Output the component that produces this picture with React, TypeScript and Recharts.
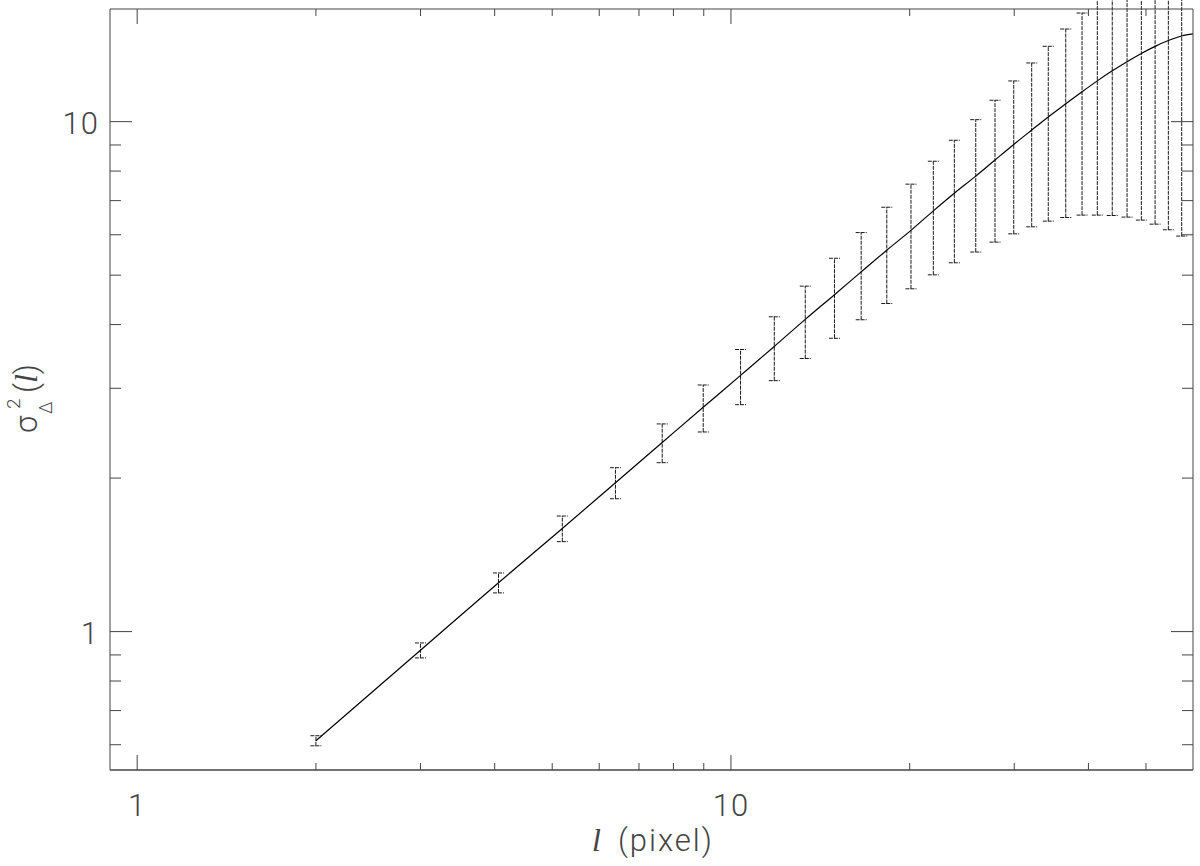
import React from 'react';
import { ComposedChart, XAxis, YAxis, Line, Scatter, ErrorBar } from 'recharts';

// lag l (pixel) of each measured point
const lagValues = [
  2, 3, 4.06, 5.2, 6.39, 7.66, 8.98, 10.38, 11.83, 13.34,
  14.94, 16.57, 18.3, 20.1, 21.92, 23.78, 25.84, 27.84, 29.94, 32.1,
  34.23, 36.63, 39.02, 41.4, 43.87, 46.46, 49.11, 51.8, 54.53, 57.43,
];
// sigma_Delta^2(l) at each lag
const sigmaValues = [
  0.611, 0.919, 1.247, 1.593, 1.959, 2.349, 2.754, 3.18, 3.624, 4.095,
  4.578, 5.074, 5.597, 6.121, 6.685, 7.24, 7.82, 8.409, 9.021, 9.627,
  10.216, 10.839, 11.443, 12.021, 12.579, 13.111, 13.608, 14.049, 14.421, 14.723,
];
// symmetric error at each lag
const sigmaErrors = [
  0.0139, 0.031, 0.056, 0.092, 0.137, 0.205, 0.291, 0.394, 0.519, 0.663,
  0.818, 0.986, 1.198, 1.42, 1.678, 1.953, 2.27, 2.605, 2.996, 3.407,
  3.835, 4.353, 4.886, 5.464, 6.034, 6.613, 7.197, 7.754, 8.284, 8.758,
];
// model curve: through the points, ending at the right edge
const curveEndLag = 60;
const curveEndValue = 14.86;

const xTicks = [1, 2, 3, 4, 5, 6, 7, 8, 9, 10, 20, 30, 40, 50];
const xMajorTicks = [1, 10];
const yTicks = [0.6, 0.7, 0.8, 0.9, 1, 2, 3, 4, 5, 6, 7, 8, 9, 10];
const yMajorTicks = [1, 10];

const xDomain: [number, number] = [0.9, 60];
const yDomain: [number, number] = [0.5353, 16.63];

const points = lagValues.map((lag, i) => ({ lag, sigma: sigmaValues[i], err: sigmaErrors[i] }));
const curve = [
  ...lagValues.map((lag, i) => ({ lag, sigma: sigmaValues[i] })),
  { lag: curveEndLag, sigma: curveEndValue },
];

const AXIS = '#444';
const TEXT = '#444';
const FONT = 'Roboto, "DejaVu Sans", sans-serif';
const SERIF = '"Liberation Serif", "DejaVu Serif", serif';

const BottomTick = (props: any) => {
  const { x, y, payload } = props;
  const major = xMajorTicks.includes(payload.value);
  return (
    <g>
      <line x1={x} x2={x} y1={y} y2={y - (major ? 15 : 7)} stroke={AXIS} strokeWidth={1} />
      {major && (
        <text x={x} y={y + 46} textAnchor="middle" fontFamily={FONT} fontWeight={300} fontSize={31} fill={TEXT} letterSpacing={1}>
          {payload.value}
        </text>
      )}
    </g>
  );
};

const TopTick = (props: any) => {
  const { x, y, payload } = props;
  const major = xMajorTicks.includes(payload.value);
  return <line x1={x} x2={x} y1={y} y2={y + (major ? 15 : 7)} stroke={AXIS} strokeWidth={1} />;
};

const LeftTick = (props: any) => {
  const { x, y, payload } = props;
  const major = yMajorTicks.includes(payload.value);
  return (
    <g>
      <line x1={x} x2={x + (major ? 22 : 11)} y1={y} y2={y} stroke={AXIS} strokeWidth={1} />
      {major && (
        <text x={x - 11} y={y + 12.5} textAnchor="end" fontFamily={FONT} fontWeight={300} fontSize={31} fill={TEXT} letterSpacing={1}>
          {payload.value}
        </text>
      )}
    </g>
  );
};

const RightTick = (props: any) => {
  const { x, y, payload } = props;
  const major = yMajorTicks.includes(payload.value);
  return <line x1={x} x2={x - (major ? 22 : 11)} y1={y} y2={y} stroke={AXIS} strokeWidth={1} />;
};

const NoShape = () => <g />;

export default function App() {
  return (
    <div style={{ position: 'absolute', left: 0, top: 0, width: 1200, height: 866, background: '#fff' }}>
      <ComposedChart width={1200} height={866} margin={{ top: 0, right: 0, bottom: 0, left: 0 }}>
        <XAxis
          xAxisId={0}
          dataKey="lag"
          type="number"
          scale="log"
          domain={xDomain}
          allowDataOverflow
          ticks={xTicks}
          interval={0}
          tickSize={0}
          tickMargin={0}
          tick={<BottomTick />}
          height={96}
          axisLine={{ stroke: AXIS, strokeWidth: 1.3 }}
          tickLine={false}
        />
        <XAxis
          xAxisId="top"
          dataKey="lag"
          orientation="top"
          type="number"
          scale="log"
          domain={xDomain}
          allowDataOverflow
          ticks={xTicks}
          interval={0}
          tickSize={0}
          tickMargin={0}
          tick={<TopTick />}
          height={9}
          axisLine={{ stroke: AXIS, strokeWidth: 1 }}
          tickLine={false}
        />
        <YAxis
          yAxisId={0}
          dataKey="sigma"
          type="number"
          scale="log"
          domain={yDomain}
          allowDataOverflow
          ticks={yTicks}
          interval={0}
          tickSize={0}
          tickMargin={0}
          tick={<LeftTick />}
          width={110}
          axisLine={{ stroke: AXIS, strokeWidth: 1 }}
          tickLine={false}
        />
        <YAxis
          yAxisId="right"
          dataKey="sigma"
          orientation="right"
          type="number"
          scale="log"
          domain={yDomain}
          allowDataOverflow
          ticks={yTicks}
          interval={0}
          tickSize={0}
          tickMargin={0}
          tick={<RightTick />}
          width={7}
          axisLine={{ stroke: AXIS, strokeWidth: 1 }}
          tickLine={false}
        />
        <Scatter
          data={points}
          dataKey="sigma"
          xAxisId="top"
          yAxisId="right"
          shape={<NoShape />}
          isAnimationActive={false}
          legendType="none"
        />
        <Scatter
          data={points}
          dataKey="sigma"
          xAxisId={0}
          yAxisId={0}
          shape={<NoShape />}
          isAnimationActive={false}
        >
          <ErrorBar dataKey="err" direction="y" width={5.5} stroke="#1a1a1a" strokeWidth={1} strokeDasharray="4 1" isAnimationActive={false} />
        </Scatter>
        <Line
          data={curve}
          dataKey="sigma"
          xAxisId={0}
          yAxisId={0}
          type="monotone"
          dot={false}
          activeDot={false}
          stroke="#000"
          strokeWidth={1.2}
          isAnimationActive={false}
        />
      </ComposedChart>
      <svg
        width={1200}
        height={866}
        style={{ position: 'absolute', left: 0, top: 0, pointerEvents: 'none' }}
      >
        <text x={592} y={851} fontFamily={FONT} fontWeight={300} fontSize={31} fill={TEXT}>
          <tspan fontFamily={SERIF} fontStyle="italic" fontWeight={400} fontSize={32}>l</tspan>
          <tspan dx={17} letterSpacing={2}>(pixel)</tspan>
        </text>
        <g transform="rotate(-90)">
          <text fontFamily={FONT} fontWeight={300} fill={TEXT}>
            <tspan x={-433} y={37} fontSize={31}>σ</tspan>
            <tspan x={-414} y={52} fontSize={18}>Δ</tspan>
            <tspan x={-409} y={20} fontSize={19}>2</tspan>
            <tspan x={-393} y={37} fontSize={31}>(</tspan>
            <tspan fontFamily={SERIF} fontStyle="italic" fontWeight={400} fontSize={32}>l</tspan>
            <tspan fontSize={31}>)</tspan>
          </text>
        </g>
      </svg>
    </div>
  );
}
